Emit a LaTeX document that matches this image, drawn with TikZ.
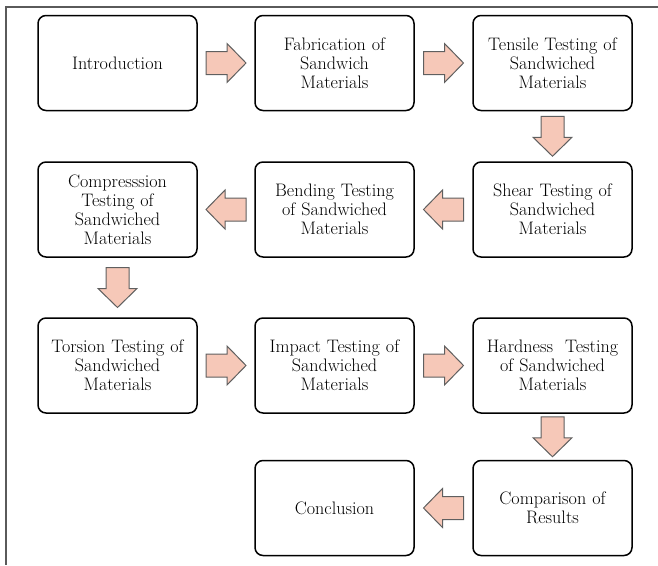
\documentclass[tikz,border=0pt]{standalone}
\usepackage{fontspec}
\usetikzlibrary{calc}

\definecolor{arrowfill}{RGB}{246,200,184}
\definecolor{arrowedge}{RGB}{95,95,95}
\definecolor{framegray}{RGB}{90,90,90}

\begin{document}
\begin{tikzpicture}[
    x=1pt,y=1pt,
    stage/.style={draw=black,line width=1.5pt,rounded corners=8pt,fill=white,minimum width=159pt,minimum height=95pt,align=center,text width=154pt,inner sep=0pt,font=\fontsize{18.1}{19}\selectfont},
    flowarrow/.pic={\draw[line width=1pt,draw=arrowedge,fill=arrowfill,line join=miter]
        (-20,-11.5) -- (1,-11.5) -- (1,-19.5) -- (20,0) -- (1,19.5) -- (1,11.5) -- (-20,11.5) -- cycle;}
]
\useasboundingbox (0,0) rectangle (658,-565);
% outer frame (top and left only)
\draw[framegray,line width=1.3pt] (658,-7) -- (6,-7) -- (6,-565);

% first row
\node[stage] (intro) at (117.5,-63) {Introduction};
\node[stage] (fabric) at (334.5,-63) {Fabrication of\\Sandwich\\Materials};
\node[stage] (tensile) at (552.5,-63) {Tensile Testing of\\Sandwiched\\Materials};

% second row
\node[stage] (compress) at (117.5,-209.5) {Compresssion\\Testing of\\Sandwiched\\Materials};
\node[stage] (bending) at (334.5,-209.5) {Bending Testing\\of Sandwiched\\Materials};
\node[stage] (shear) at (552.5,-209.5) {Shear Testing of\\Sandwiched\\Materials};

% third row
\node[stage] (torsion) at (117.5,-365.5) {Torsion Testing of\\Sandwiched\\Materials};
\node[stage] (impact) at (334.5,-365.5) {Impact Testing of\\Sandwiched\\Materials};
\node[stage] (hardness) at (552.5,-365.5) {Hardness\ \ Testing\\of Sandwiched\\Materials};

% last row
\node[stage] (conclude) at (334.5,-508) {Conclusion};
\node[stage] (compare) at (552.5,-508) {Comparison of\\Results};

% block arrows between stages
\pic at ($(intro.east)!0.5!(fabric.west)$) {flowarrow};
\pic at ($(fabric.east)!0.5!(tensile.west)$) {flowarrow};
\pic[rotate=-90] at ($(tensile.south)!0.5!(shear.north)$) {flowarrow};
\pic[rotate=180] at ($(shear.west)!0.5!(bending.east)$) {flowarrow};
\pic[rotate=180] at ($(bending.west)!0.5!(compress.east)$) {flowarrow};
\pic[rotate=-90] at ($(compress.south)!0.5!(torsion.north)$) {flowarrow};
\pic at ($(torsion.east)!0.5!(impact.west)$) {flowarrow};
\pic at ($(impact.east)!0.5!(hardness.west)$) {flowarrow};
\pic[rotate=-90] at ($(hardness.south)!0.5!(compare.north)$) {flowarrow};
\pic[rotate=180] at ($(compare.west)!0.5!(conclude.east)$) {flowarrow};
\end{tikzpicture}
\end{document}
